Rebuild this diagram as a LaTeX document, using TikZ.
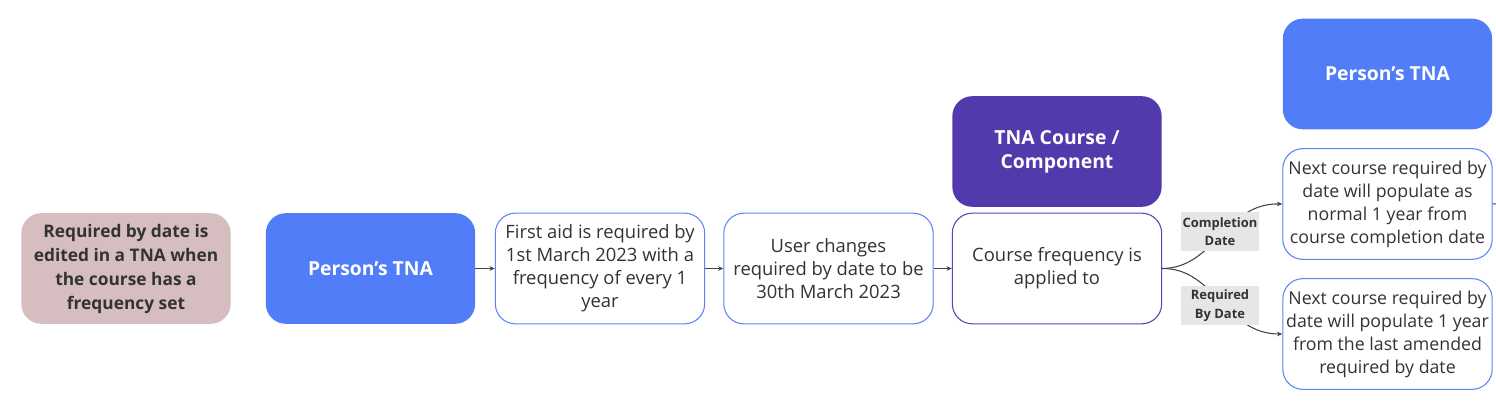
\documentclass[tikz,border=0pt]{standalone}
\usepackage{fontspec}
\setmainfont{Open Sans}
\usetikzlibrary{arrows.meta}
\definecolor{pinkbox}{HTML}{D5BDC0}
\definecolor{bluebox}{HTML}{527DF8}
\definecolor{purplebox}{HTML}{523AAD}
\definecolor{blueline}{HTML}{5B86F5}
\definecolor{purpleline}{HTML}{5A45B5}
\definecolor{txt}{HTML}{333333}
\definecolor{lblfill}{HTML}{E6E6E6}
\definecolor{conn}{HTML}{444444}
\newcommand{\apo}{\symbol{39}}
\tikzset{
  x=0.75pt, y=-0.75pt,
  base/.style={rounded corners=15pt, minimum width=157pt, minimum height=83pt, align=center, inner sep=0pt},
  solidbox/.style={base, fill=#1, text=white, font=\fontsize{14.5}{18}\selectfont\bfseries},
  outbox/.style={base, draw=#1, fill=white, line width=0.8pt, text=txt, font=\fontsize{13.8}{17.3}\selectfont},
  smallout/.style={outbox=#1, font=\fontsize{13.3}{17.3}\selectfont},
  conbox/.style={draw=conn, line width=0.8pt, -{Stealth[length=4pt,width=3.5pt]}},
  lbl/.style={fill=lblfill, text=txt, font=\fontsize{9.7}{14}\selectfont\bfseries, minimum width=58pt, minimum height=29pt, align=center, inner sep=0.5pt}
}
\begin{document}
\begin{tikzpicture}
\useasboundingbox (0,0) rectangle (1496,406);
\node[base, fill=pinkbox, text=txt, font=\fontsize{13}{18}\selectfont\bfseries] (start) at (126,268.5) {Required by date is\\edited in a TNA when\\the course has a\\frequency set};
\node[solidbox=bluebox] (tna1) at (370.5,268.5) {Person\apo s TNA};
\node[outbox=blueline] (first) at (600,268.5) {First aid is required by\\1st March 2023 with a\\frequency of every 1\\year};
\node[outbox=blueline] (user) at (828.5,268.5) {User changes\\required by date to be\\30th March 2023};
\node[solidbox=purplebox] (course) at (1057,151.5) {TNA Course /\\Component};
\node[outbox=purpleline] (freq) at (1057,268.5) {Course frequency is\\applied to};
\node[solidbox=bluebox] (tna2) at (1387.5,74) {Person\apo s TNA};
\node[smallout=blueline] (next1) at (1387.5,204) {Next course required by\\date will populate as\\normal 1 year from\\course completion date};
\node[smallout=blueline] (next2) at (1387.5,334) {Next course required by\\date will populate 1 year\\from the last amended\\required by date};
\coordinate (off) at (1510,203);
\draw[conbox] (tna1.east) -- (first.west);
\draw[conbox] (first.east) -- (user.west);
\draw[conbox] (user.east) -- (freq.west);
\draw[conbox] (freq.east) .. controls (1215,268) and (1225,203) .. (next1.west);
\draw[conbox] (freq.east) .. controls (1215,268) and (1225,334) .. (next2.west);
\node[lbl] (lcomp) at (1220,231.5) {Completion\\Date};
\node[lbl] (lreq) at (1220,305.5) {Required\\By Date};
\draw[draw=conn, line width=0.8pt] (next1.east) -- (off);
\end{tikzpicture}
\end{document}
